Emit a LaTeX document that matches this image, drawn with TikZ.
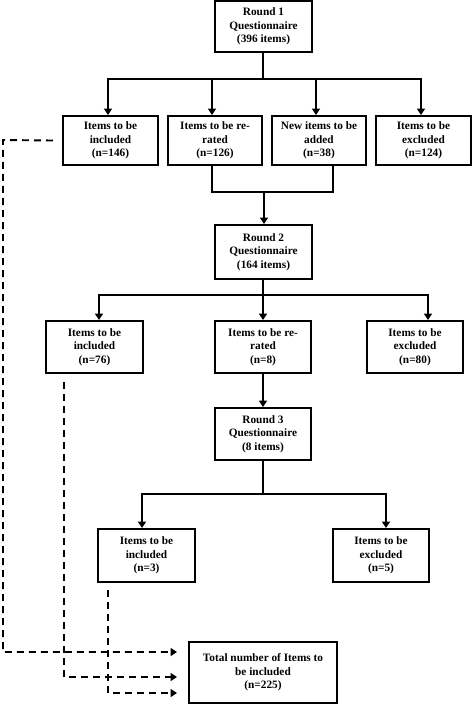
\documentclass[tikz,border=0pt]{standalone}
\usepackage{fontspec}
\setmainfont{Liberation Serif}
\usetikzlibrary{arrows.meta}
\begin{document}
\begin{tikzpicture}[x=1pt,y=-1pt,
  box/.style={draw=black, line width=1.9pt, fill=white, align=center, inner sep=1pt,
    font=\bfseries\fontsize{11.3}{13.5}\selectfont, minimum height=51pt},
  conn/.style={line width=1.9pt},
  arr/.style={line width=1.9pt, -{Triangle[length=6.5pt,width=8pt]}},
  dashline/.style={line width=1.9pt, dash pattern=on 7pt off 5pt, -{Triangle[length=6.5pt,width=8pt]}}
  ]
\useasboundingbox (0,0) rectangle (473,704);
\fill[white] (0,0) rectangle (473,704);
% Round 1
\node[box, minimum width=97pt] (r1) at (263.5,26.5) {Round 1\\Questionnaire\\(396 items)};
\node[box, minimum width=95pt, minimum height=49pt] (a1) at (110.5,140.5) {Items to be\\included\\(n=146)};
\node[box, minimum width=94pt, minimum height=49pt] (a2) at (215,140.5) {Items to be re-\\rated\\(n=126)};
\node[box, minimum width=94pt, minimum height=49pt] (a3) at (319,140.5) {New items to be\\added\\(n=38)};
\node[box, minimum width=95pt, minimum height=49pt] (a4) at (423.5,140.5) {Items to be\\excluded\\(n=124)};
% Round 2
\node[box, minimum width=97pt, minimum height=54pt] (r2) at (263.5,252) {Round 2\\Questionnaire\\(164 items)};
\node[box, minimum width=97pt, minimum height=52pt] (b1) at (94.5,347) {Items to be\\included\\(n=76)};
\node[box, minimum width=96pt, minimum height=52pt] (b2) at (263,347) {Items to be re-\\rated\\(n=8)};
\node[box, minimum width=96pt, minimum height=52pt] (b3) at (415,347) {Items to be\\excluded\\(n=80)};
% Round 3
\node[box, minimum width=96pt, minimum height=52pt] (r3) at (263,434) {Round 3\\Questionnaire\\(8 items)};
\node[box, minimum width=97pt, minimum height=53pt] (c1) at (146.5,555.5) {Items to be\\included\\(n=3)};
\node[box, minimum width=96pt, minimum height=53pt] (c2) at (381,555.5) {Items to be\\excluded\\(n=5)};
% Total
\node[box, minimum width=148pt, minimum height=61pt] (t) at (263,672.5) {Total number of Items to\\be included\\(n=225)};

% Round 1 connectors
\draw[conn] (r1.south -| 263,0) -- (263,79);
\draw[conn] (107,79) -- (422,79);
\draw[arr] (108,79) -- (a1.north -| 108,0);
\draw[arr] (212,79) -- (a2.north -| 212,0);
\draw[arr] (316,79) -- (a3.north -| 316,0);
\draw[arr] (421,79) -- (a4.north -| 421,0);
% merge
\draw[conn] (a2.south -| 212,0) -- (212,192) -- (333,192) -- (a3.south -| 333,0);
\draw[arr] (264,192) -- (r2.north -| 264,0);
% Round 2 connectors
\draw[conn] (r2.south -| 263,0) -- (263,295);
\draw[conn] (98,295) -- (429,295);
\draw[arr] (99,295) -- (b1.north -| 99,0);
\draw[arr] (263,295) -- (b2.north -| 263,0);
\draw[arr] (428,295) -- (b3.north -| 428,0);
\draw[arr] (b2.south) -- (r3.north);
% Round 3 connectors
\draw[conn] (r3.south) -- (263,494);
\draw[conn] (141,494) -- (387,494);
\draw[arr] (142,494) -- (c1.north -| 142,0);
\draw[arr] (386,494) -- (c2.north -| 386,0);

% dashed connectors to total
\coordinate (e1) at (177,652);
\coordinate (e2) at (177,677);
\coordinate (e3) at (177,693);
\draw[dashline] (a1.west -| 53,0) -- (3,140) -- (3,652) -- (e1);
\draw[dashline] (64,382) -- (64,677) -- (e2);
\draw[dashline] (108,590) -- (108,693) -- (e3);
\end{tikzpicture}
\end{document}
